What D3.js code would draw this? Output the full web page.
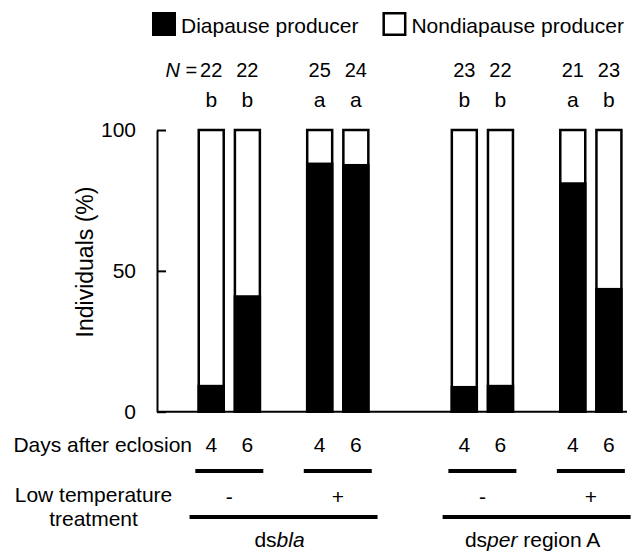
<!DOCTYPE html>
<meta charset="utf-8">
<head>
    <script src="https://d3js.org/d3.v7.min.js"></script>
    <style>
        body { margin: 0; background: #fff; }
        svg text { font-family: "Liberation Sans", Arial, sans-serif; fill: #000; }
    </style>
</head>
<body>
<div id="my_dataviz"></div>

<script>

    // one entry per bar, left to right
    const days = [4, 6, 4, 6, 4, 6, 4, 6]
    const sampleN = [22, 22, 25, 24, 23, 22, 21, 23]
    const diapausePct = [9.1, 40.9, 88.0, 87.5, 8.7, 9.1, 81.0, 43.5]
    const sigLetters = ["b", "b", "a", "a", "b", "b", "a", "b"]

    // one per pair of bars
    const lowTemp = ["-", "+", "-", "+"]

    // one per genotype: [plain, italic, plain]
    const genotypes = [["ds", "bla", ""], ["ds", "per", " region A"]]

    const yTicks = [0, 50, 100]
    const legendLabels = ["Diapause producer", "Nondiapause producer"]
    const legendFills = ["#000", "#fff"]

    const width = 634, height = 557

    const svg = d3.select("#my_dataviz").append("svg")
        .attr("width", width)
        .attr("height", height)

    // slot index: bars inside a pair touch, one empty slot between pairs,
    // one more between genotypes
    const bars = days.map((d, i) => {
        const pair = Math.floor(i / 2)
        const geno = Math.floor(i / 4)
        return {
            days: d,
            n: sampleN[i],
            pct: diapausePct[i],
            letter: sigLetters[i],
            pair: pair,
            geno: geno,
            slot: i + pair + geno
        }
    })

    const x = d3.scaleBand()
        .domain(d3.range(-1, 12))
        .range([157, 627])
        .paddingInner(0.24)
        .paddingOuter(0.12)

    const y = d3.scaleLinear()
        .domain([0, 100])
        .range([411.7, 130])

    const cx = d => x(d.slot) + x.bandwidth() / 2

    // y axis, ticks pointing inward
    const leftAxis = d3.axisLeft(y)
        .tickValues(yTicks)
        .tickSizeInner(-9)
        .tickSizeOuter(0)
        .tickPadding(21)

    const axisG = svg.append("g")
        .attr("transform", `translate(${x.range()[0]}, 0)`)
        .call(leftAxis)
    axisG.select(".domain").attr("stroke", "#000").attr("stroke-width", 2)
    axisG.selectAll(".tick line").attr("stroke", "#000").attr("stroke-width", 2)
    axisG.selectAll(".tick text")
        .attr("font-size", 21)
        .attr("font-family", "Liberation Sans, Arial, sans-serif")

    svg.append("text")
        .attr("transform", `translate(93, 262) rotate(-90)`)
        .attr("text-anchor", "middle")
        .attr("font-size", 23)
        .text("Individuals (%)")

    // bars: white full column with outline, black part for diapause producers
    const sw = 2.5
    const barG = svg.append("g")

    barG.selectAll(".full")
        .data(bars)
        .enter()
        .append("rect")
        .attr("class", "full")
        .attr("x", d => x(d.slot) + sw / 2)
        .attr("width", x.bandwidth() - sw)
        .attr("y", y(100))
        .attr("height", y(0) - y(100))
        .attr("fill", "#fff")
        .attr("stroke", "#000")
        .attr("stroke-width", sw)

    barG.selectAll(".dia")
        .data(bars)
        .enter()
        .append("rect")
        .attr("class", "dia")
        .attr("x", d => x(d.slot) + sw / 2)
        .attr("width", x.bandwidth() - sw)
        .attr("y", d => y(d.pct))
        .attr("height", d => y(0) - y(d.pct))
        .attr("fill", "#000")
        .attr("stroke", "#000")
        .attr("stroke-width", sw)

    // baseline
    svg.append("line")
        .attr("x1", x.range()[0])
        .attr("x2", x.range()[1])
        .attr("y1", y(0))
        .attr("y2", y(0))
        .attr("stroke", "#000")
        .attr("stroke-width", 2)

    // N and significance letters
    svg.selectAll(".nlab")
        .data(bars)
        .enter()
        .append("text")
        .attr("class", "nlab")
        .attr("x", cx)
        .attr("y", 77)
        .attr("text-anchor", "middle")
        .attr("font-size", 20)
        .text(d => d.n)

    const nTitle = svg.append("text")
        .attr("x", cx(bars[0]) - 14)
        .attr("y", 77)
        .attr("text-anchor", "end")
        .attr("font-size", 20)
    nTitle.append("tspan").attr("font-style", "italic").text("N")
    nTitle.append("tspan").text(" =")

    svg.selectAll(".let")
        .data(bars)
        .enter()
        .append("text")
        .attr("class", "let")
        .attr("x", cx)
        .attr("y", 107)
        .attr("text-anchor", "middle")
        .attr("font-size", 21)
        .text(d => d.letter)

    // legend
    const legend = svg.append("g")
    let lx = 152
    legendLabels.forEach((lab, i) => {
        legend.append("rect")
            .attr("x", lx + 1.25)
            .attr("y", 13.25)
            .attr("width", 21.5)
            .attr("height", 21.5)
            .attr("fill", legendFills[i])
            .attr("stroke", "#000")
            .attr("stroke-width", 2.5)
        const t = legend.append("text")
            .attr("x", lx + 29)
            .attr("y", 33)
            .attr("font-size", 21)
            .text(lab)
        lx = lx + 29 + t.node().getComputedTextLength() + 24
    })

    // days after eclosion row
    svg.append("text")
        .attr("x", 192)
        .attr("y", 452)
        .attr("text-anchor", "end")
        .attr("font-size", 21)
        .text("Days after eclosion")

    svg.selectAll(".day")
        .data(bars)
        .enter()
        .append("text")
        .attr("class", "day")
        .attr("x", cx)
        .attr("y", 452)
        .attr("text-anchor", "middle")
        .attr("font-size", 21)
        .text(d => d.days)

    // pair underlines and low temperature signs
    const pairs = lowTemp.map((s, p) => {
        const members = bars.filter(b => b.pair === p)
        return { sign: s, center: d3.mean(members, cx) }
    })

    svg.selectAll(".pairline")
        .data(pairs)
        .enter()
        .append("line")
        .attr("x1", d => d.center - 34)
        .attr("x2", d => d.center + 34)
        .attr("y1", 471)
        .attr("y2", 471)
        .attr("stroke", "#000")
        .attr("stroke-width", 4)

    svg.selectAll(".sign")
        .data(pairs)
        .enter()
        .append("text")
        .attr("class", "sign")
        .attr("x", d => d.center)
        .attr("y", 504)
        .attr("text-anchor", "middle")
        .attr("font-size", 21)
        .text(d => d.sign)

    const ltLabel = svg.append("text")
        .attr("text-anchor", "middle")
        .attr("font-size", 21)
    ltLabel.append("tspan").attr("x", 93.5).attr("y", 502).text("Low temperature")
    ltLabel.append("tspan").attr("x", 93.5).attr("y", 526).text("treatment")

    // genotype underlines and names
    const genos = genotypes.map((g, k) => {
        const members = bars.filter(b => b.geno === k)
        return { parts: g, center: d3.mean(members, cx) }
    })

    svg.selectAll(".genoline")
        .data(genos)
        .enter()
        .append("line")
        .attr("x1", d => d.center - 94)
        .attr("x2", d => d.center + 94)
        .attr("y1", 517)
        .attr("y2", 517)
        .attr("stroke", "#000")
        .attr("stroke-width", 4)

    genos.forEach(g => {
        const t = svg.append("text")
            .attr("x", g.center - 4)
            .attr("y", 547)
            .attr("text-anchor", "middle")
            .attr("font-size", 21)
        t.append("tspan").text(g.parts[0])
        t.append("tspan").attr("font-style", "italic").text(g.parts[1])
        t.append("tspan").text(g.parts[2])
    })

</script>
</body>
